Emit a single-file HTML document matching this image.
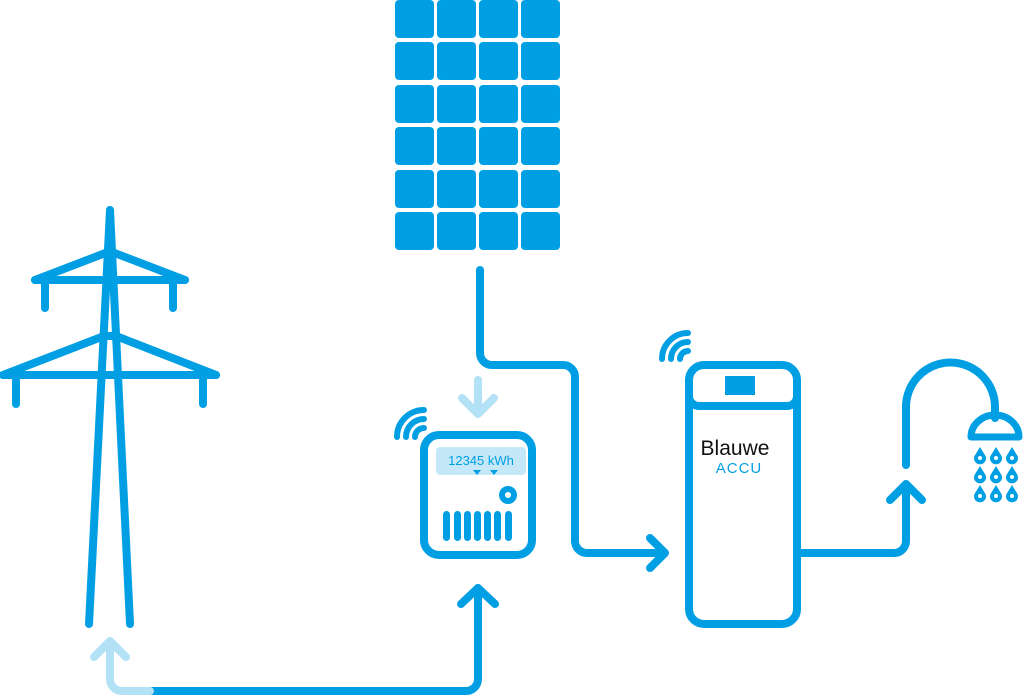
<!DOCTYPE html>
<html><head><meta charset="utf-8"><style>
html,body{margin:0;padding:0;background:#fff;width:1024px;height:696px;overflow:hidden}
svg{display:block}
</style></head><body>
<svg width="1024" height="696" viewBox="0 0 1024 696" xmlns="http://www.w3.org/2000/svg">
<g fill="#009fe3">
<rect x="395" y="0" width="39" height="38" rx="4"/><rect x="437" y="0" width="39" height="38" rx="4"/><rect x="479" y="0" width="39" height="38" rx="4"/><rect x="521" y="0" width="39" height="38" rx="4"/>
<rect x="395" y="42" width="39" height="38" rx="4"/><rect x="437" y="42" width="39" height="38" rx="4"/><rect x="479" y="42" width="39" height="38" rx="4"/><rect x="521" y="42" width="39" height="38" rx="4"/>
<rect x="395" y="85" width="39" height="38" rx="4"/><rect x="437" y="85" width="39" height="38" rx="4"/><rect x="479" y="85" width="39" height="38" rx="4"/><rect x="521" y="85" width="39" height="38" rx="4"/>
<rect x="395" y="127" width="39" height="38" rx="4"/><rect x="437" y="127" width="39" height="38" rx="4"/><rect x="479" y="127" width="39" height="38" rx="4"/><rect x="521" y="127" width="39" height="38" rx="4"/>
<rect x="395" y="170" width="39" height="38" rx="4"/><rect x="437" y="170" width="39" height="38" rx="4"/><rect x="479" y="170" width="39" height="38" rx="4"/><rect x="521" y="170" width="39" height="38" rx="4"/>
<rect x="395" y="212" width="39" height="38" rx="4"/><rect x="437" y="212" width="39" height="38" rx="4"/><rect x="479" y="212" width="39" height="38" rx="4"/><rect x="521" y="212" width="39" height="38" rx="4"/>
</g>
<g fill="none" stroke="#009fe3" stroke-width="8" stroke-linecap="round" stroke-linejoin="round">
<line x1="110" y1="210" x2="89" y2="624"/>
<line x1="110" y1="210" x2="130" y2="624"/>
<line x1="35" y1="280" x2="185" y2="280"/>
<polyline points="35,280 108,252 112,252 185,280"/>
<line x1="45" y1="280" x2="45" y2="308"/>
<line x1="173" y1="280" x2="173" y2="308"/>
<line x1="3" y1="375" x2="216" y2="375"/>
<polyline points="3,375 104,336 116,336 216,375"/>
<line x1="16" y1="375" x2="16" y2="404"/>
<line x1="203" y1="375" x2="203" y2="404"/>
<path d="M150,691 H466 A12,12 0 0 0 478,679 V588"/>
<polyline points="461,604 478,588 495,604"/>
<path d="M480,270 V353 A12,12 0 0 0 492,365 H563 A12,12 0 0 1 575,377 V541 A12,12 0 0 0 587,553 H664"/>
<polyline points="650,538 665,553 650,568"/>
<rect x="424" y="435" width="108" height="120" rx="15"/>
<rect x="689" y="365" width="108" height="259" rx="15"/>
<path d="M689,392 V396 A10,10 0 0 0 699,406 H787 A10,10 0 0 0 797,396"/>
<path d="M797,553 H894 A12,12 0 0 0 906,541 V486"/>
<polyline points="890,500 906,484 922,500"/>
<path d="M906,465 V407 A44.5,44.5 0 0 1 995,407 V418"/>
<path d="M971,437 A24,22 0 0 1 1019,437 Z" stroke-width="7"/>
</g>
<g fill="none" stroke="#009fe3" stroke-width="6" stroke-linecap="round">
<path d="M397,437 A27,27 0 0 1 424,410"/>
<path d="M406,437 A18,18 0 0 1 424,419"/>
<path d="M415,437 A9,9 0 0 1 424,428"/>
<path d="M662,359 A26,26 0 0 1 688,333"/>
<path d="M671,359 A17,17 0 0 1 688,342"/>
<path d="M680,359 A8,8 0 0 1 688,351"/>
</g>
<g fill="none" stroke="#b3e1f6" stroke-width="8" stroke-linecap="round" stroke-linejoin="round">
<path d="M110,643 V679 A12,12 0 0 0 122,691 H150"/>
<polyline points="94,657 110,641 126,657"/>
<line x1="478" y1="380" x2="478" y2="413"/>
<polyline points="462,398 478,414 494,398"/>
</g>
<rect x="436" y="447" width="90" height="28" rx="4" fill="#c5e8f8"/>
<text x="481" y="465" text-anchor="middle" font-family="Liberation Sans, sans-serif" font-size="13" fill="#009fe3">12345 kWh</text>
<polygon points="473,470 481,470 477,475" fill="#009fe3"/>
<polygon points="490,470 498,470 494,475" fill="#009fe3"/>
<circle cx="508" cy="495" r="9" fill="#009fe3"/><circle cx="508" cy="495" r="3" fill="#fff"/>
<g fill="#009fe3">
<rect x="443" y="511" width="7" height="30" rx="3.5"/><rect x="454" y="511" width="7" height="30" rx="3.5"/><rect x="464" y="511" width="7" height="30" rx="3.5"/><rect x="474" y="511" width="7" height="30" rx="3.5"/><rect x="484" y="511" width="7" height="30" rx="3.5"/><rect x="494" y="511" width="7" height="30" rx="3.5"/><rect x="505" y="511" width="7" height="30" rx="3.5"/>
</g>
<rect x="725" y="376" width="30" height="19" fill="#009fe3"/>
<text x="735" y="455" text-anchor="middle" font-family="Liberation Sans, sans-serif" font-size="21" fill="#111">Blauwe</text>
<text x="739" y="473" text-anchor="middle" font-family="Liberation Sans, sans-serif" font-size="15" fill="#009fe3" letter-spacing="1">ACCU</text>
<g fill="#009fe3">
<path d="M980,447 L974.5,456 A6,6 0 1 0 985.5,456 Z"/><path d="M996,447 L990.5,456 A6,6 0 1 0 1001.5,456 Z"/><path d="M1012,447 L1006.5,456 A6,6 0 1 0 1017.5,456 Z"/>
<path d="M980,466 L974.5,475 A6,6 0 1 0 985.5,475 Z"/><path d="M996,466 L990.5,475 A6,6 0 1 0 1001.5,475 Z"/><path d="M1012,466 L1006.5,475 A6,6 0 1 0 1017.5,475 Z"/>
<path d="M980,485 L974.5,494 A6,6 0 1 0 985.5,494 Z"/><path d="M996,485 L990.5,494 A6,6 0 1 0 1001.5,494 Z"/><path d="M1012,485 L1006.5,494 A6,6 0 1 0 1017.5,494 Z"/>
</g>
<g fill="#fff">
<circle cx="980" cy="458" r="2"/><circle cx="996" cy="458" r="2"/><circle cx="1012" cy="458" r="2"/>
<circle cx="980" cy="477" r="2"/><circle cx="996" cy="477" r="2"/><circle cx="1012" cy="477" r="2"/>
<circle cx="980" cy="496" r="2"/><circle cx="996" cy="496" r="2"/><circle cx="1012" cy="496" r="2"/>
</g>
</svg>
</body></html>
